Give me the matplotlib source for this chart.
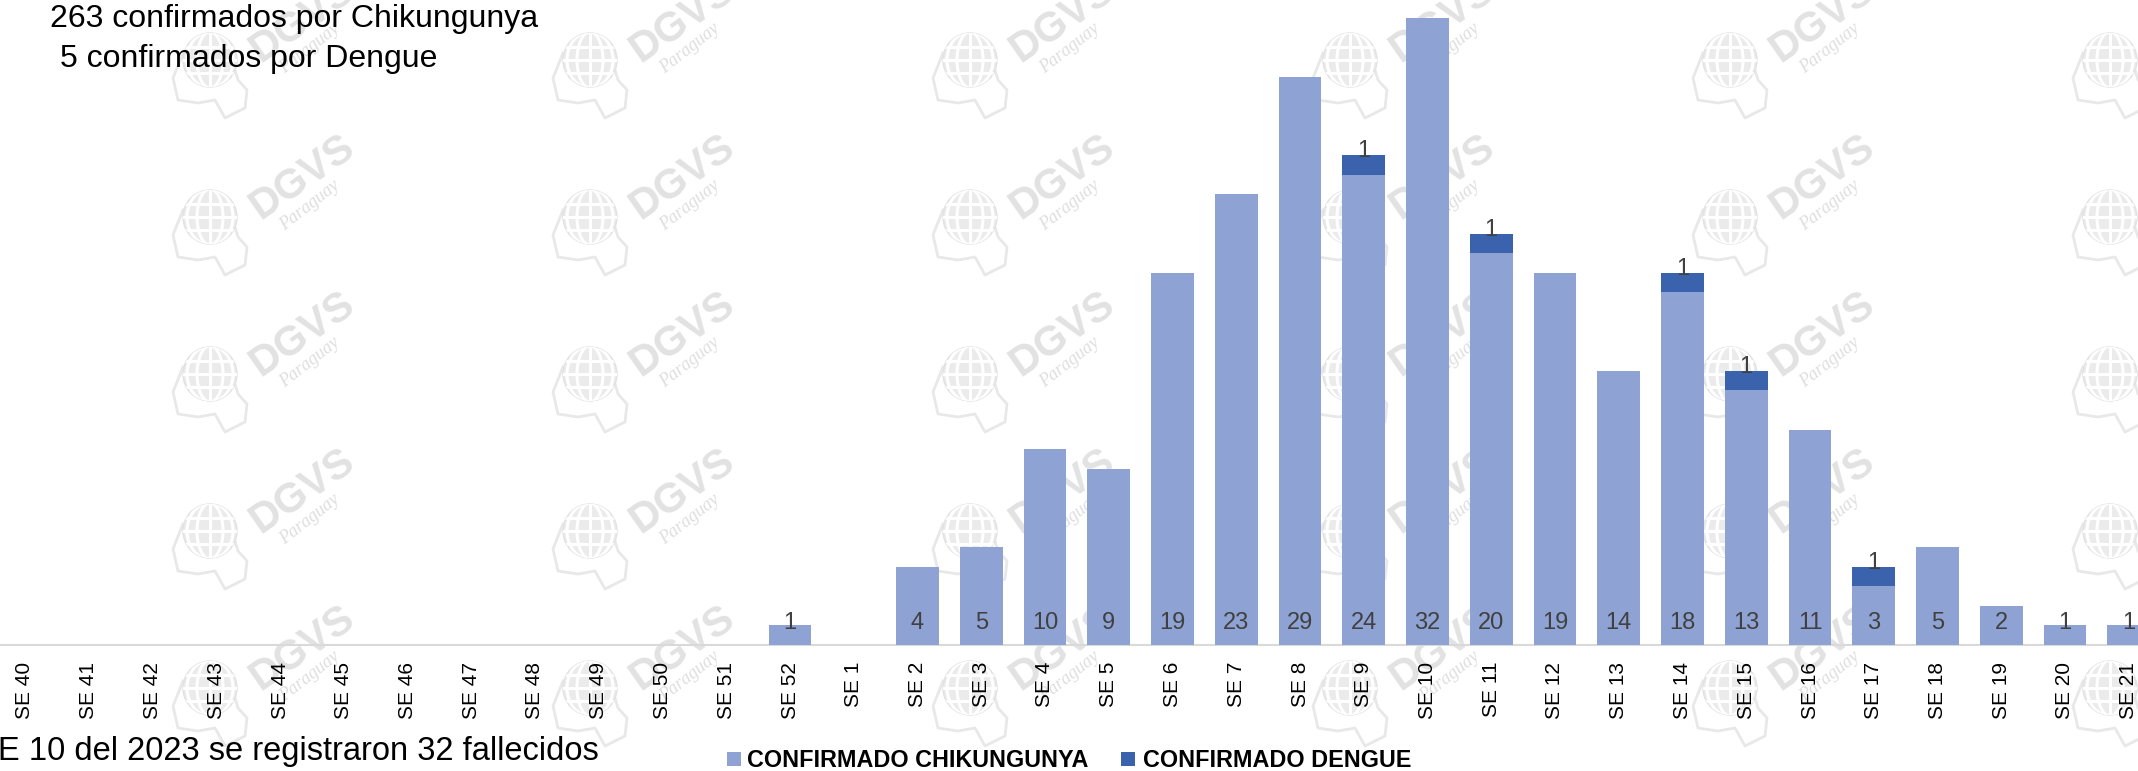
import matplotlib
matplotlib.use("Agg")
import matplotlib.pyplot as plt
from matplotlib import font_manager as fm
from matplotlib.patches import Rectangle, Circle, Ellipse
from matplotlib.lines import Line2D

# ---- data -------------------------------------------------------------
weeks = ["SE 40", "SE 41", "SE 42", "SE 43", "SE 44", "SE 45", "SE 46",
         "SE 47", "SE 48", "SE 49", "SE 50", "SE 51", "SE 52",
         "SE 1", "SE 2", "SE 3", "SE 4", "SE 5", "SE 6", "SE 7", "SE 8",
         "SE 9", "SE 10", "SE 11", "SE 12", "SE 13", "SE 14", "SE 15",
         "SE 16", "SE 17", "SE 18", "SE 19", "SE 20", "SE 21"]
chikungunya = [0, 0, 0, 0, 0, 0, 0, 0, 0, 0, 0, 0, 1,
               0, 4, 5, 10, 9, 19, 23, 29, 24, 32, 20, 19, 14, 18, 13,
               11, 3, 5, 2, 1, 1]
dengue = [0, 0, 0, 0, 0, 0, 0, 0, 0, 0, 0, 0, 0,
          0, 0, 0, 0, 0, 0, 0, 0, 1, 0, 1, 0, 0, 1, 1,
          0, 1, 0, 0, 0, 0]
series_names = ["CONFIRMADO CHIKUNGUNYA", "CONFIRMADO DENGUE"]
header_lines = ["263 confirmados por Chikungunya", "5 confirmados por Dengue"]
footer_text = "E 10 del 2023 se registraron 32 fallecidos"

# ---- style ------------------------------------------------------------
W, H, DPI = 2138, 771, 100
C_CHIK = "#8EA3D4"
C_DENG = "#3B63AD"
LABEL_GRAY = "#404040"
MARK_GRAY = "#e2e2e2"

installed = {f.name for f in fm.fontManager.ttflist}
if "Liberation Sans Narrow" in installed:
    LEG_FAMILY, LEG_SIZE = ["Liberation Sans Narrow", "Liberation Sans"], 19.0
else:
    LEG_FAMILY, LEG_SIZE = ["Liberation Sans", "DejaVu Sans"], 16.8

plt.rcParams["font.family"] = ["Liberation Sans", "DejaVu Sans"]

fig = plt.figure(figsize=(W / DPI, H / DPI), dpi=DPI, facecolor="white")


def fpos(x, y):
    """pixel position measured from the top-left corner -> figure fraction"""
    return x / W, 1 - y / H


# ---- background watermark tiles ----------------------------------------
bg = fig.add_axes([0, 0, 1, 1], zorder=-1)
bg.set_xlim(0, W)
bg.set_ylim(H, 0)
bg.axis("off")

outline = [(-27, -7), (-37, 18), (-32, 40), (-12, 43), (5, 40), (15, 58),
           (35, 48), (37, 30), (28, 20), (25, 10)]

for gx in range(210, 2140, 380):
    for gy in range(60, 700, 157):
        bg.plot([gx + dx for dx, dy in outline], [gy + dy for dx, dy in outline],
                color="#e8e8e8", lw=2, zorder=0.5, solid_joinstyle="round")
        globe = Circle((gx, gy), 27, facecolor="#ebebeb", edgecolor="#e2e2e2",
                       lw=1.0, zorder=1)
        bg.add_patch(globe)
        grid = []
        for dy in (-13, 0, 13):
            grid.append(Line2D([gx - 30, gx + 30], [gy + dy, gy + dy],
                               color="white", lw=2.2, zorder=2))
        grid.append(Line2D([gx, gx], [gy - 30, gy + 30], color="white",
                           lw=2.2, zorder=2))
        for ew in (26, 46):
            grid.append(Ellipse((gx, gy), ew, 56, facecolor="none",
                                edgecolor="white", lw=2.2, zorder=2))
        for art in grid:
            bg.add_artist(art)
            art.set_clip_path(globe)
        bg.text(gx + 92, gy - 40, "DGVS", fontsize=30, fontweight="bold",
                color=MARK_GRAY, rotation=35, ha="center", va="center",
                rotation_mode="anchor", zorder=1)
        bg.text(gx + 100, gy - 12, "Paraguay", fontsize=13, style="italic",
                family=["Liberation Serif", "DejaVu Serif"], color="#dedede",
                rotation=38, ha="center", va="center",
                rotation_mode="anchor", zorder=1)

# ---- main chart -------------------------------------------------------
ax = fig.add_axes([0, (H - 645) / H, 1, 645 / H], zorder=1)
ax.patch.set_alpha(0)

x = list(range(len(weeks)))
bar_w = 0.67
ax.bar(x, chikungunya, width=bar_w, color=C_CHIK, zorder=2)
ax.bar(x, dengue, width=bar_w, bottom=chikungunya, color=C_DENG, zorder=2)

ax.set_xlim(-25 / 63.75, (W - 25) / 63.75)
ax.set_ylim(0, 645 / 19.59)

for xi, v in zip(x, chikungunya):
    if v > 0:
        ax.annotate(str(v), xy=(xi, 0), xytext=(0, 16),
                    textcoords="offset pixels", ha="center", va="baseline",
                    fontsize=17, color=LABEL_GRAY, zorder=4)
for xi, c, d in zip(x, chikungunya, dengue):
    if d > 0:
        ax.annotate(str(d), xy=(xi, c + d), xytext=(0, -2),
                    textcoords="offset pixels", ha="center", va="baseline",
                    fontsize=17, color=LABEL_GRAY, zorder=4)

ax.set_xticks(x)
ax.set_xticklabels(weeks, rotation=90, fontsize=15, color="black")
ax.tick_params(axis="x", length=0, pad=12.0)
ax.set_yticks([])
for side in ("left", "right", "top"):
    ax.spines[side].set_visible(False)
ax.spines["bottom"].set_color("#d9d9d9")
ax.spines["bottom"].set_linewidth(1.5)
ax.spines["bottom"].set_zorder(1)

# ---- header / footer text ---------------------------------------------
fig.text(*fpos(50, 27), header_lines[0], fontsize=23, color="black",
         ha="left", va="baseline")
fig.text(*fpos(60, 67), header_lines[1], fontsize=23, color="black",
         ha="left", va="baseline")
fig.text(*fpos(-2, 760), footer_text, fontsize=23.5, color="black",
         ha="left", va="baseline")

# ---- legend -----------------------------------------------------------
legend_items = [(727, 747, C_CHIK, series_names[0]),
                (1121, 1143, C_DENG, series_names[1])]
for sq_x, tx_x, col, name in legend_items:
    x0, y0 = fpos(sq_x, 766)
    fig.add_artist(Rectangle((x0, y0), 14 / W, 14 / H, transform=fig.transFigure,
                             facecolor=col, edgecolor="none"))
    fig.text(*fpos(tx_x, 767), name, fontsize=LEG_SIZE, fontweight="bold",
             family=LEG_FAMILY, color="black", ha="left", va="baseline")

fig.savefig("out.png", dpi=DPI, facecolor="white")
